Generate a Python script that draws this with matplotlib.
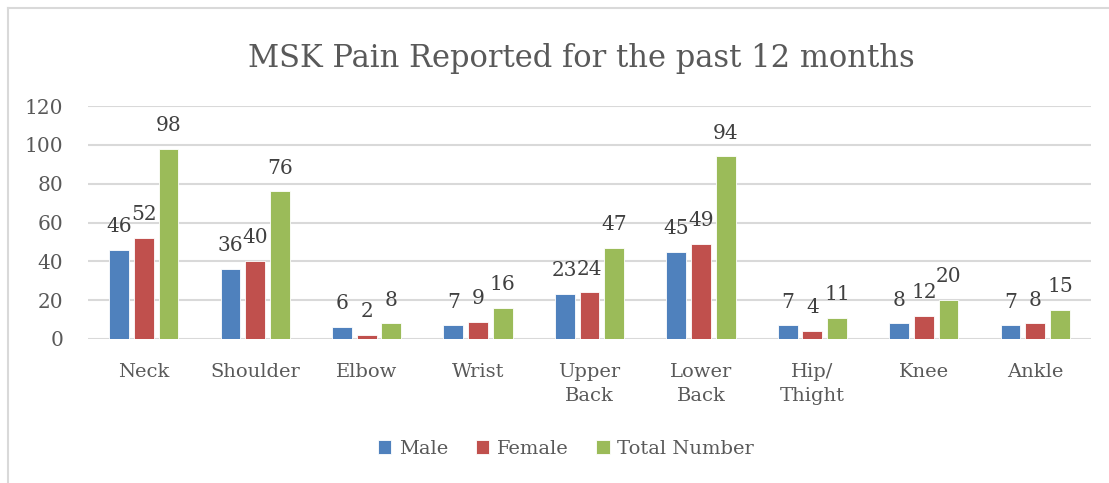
import numpy as np
import matplotlib.pyplot as plt
from matplotlib.lines import Line2D

categories = ["Neck", "Shoulder", "Elbow", "Wrist", "Upper\nBack", "Lower\nBack",
              "Hip/\nThight", "Knee", "Ankle"]
male = [46, 36, 6, 7, 23, 45, 7, 8, 7]
female = [52, 40, 2, 9, 24, 49, 4, 12, 8]
total = [98, 76, 8, 16, 47, 94, 11, 20, 15]

series = [("Male", male, "#4F81BD"),
          ("Female", female, "#C0504D"),
          ("Total Number", total, "#9BBB59")]

plt.rcParams["font.family"] = "DejaVu Serif"
W, H = 1109, 483
fig = plt.figure(figsize=(W / 100, H / 100), dpi=100)

# chart border (only top and left visible in the crop)
fig.add_artist(Line2D([8 / W, 8 / W], [0, 1 - 8 / H], color="#D9D9D9", lw=1.5))
fig.add_artist(Line2D([8 / W, 1], [1 - 8 / H, 1 - 8 / H], color="#D9D9D9", lw=1.5))

ax = fig.add_axes([88 / W, 144 / H, (1091 - 88) / W, (339 - 106) / H])

x = np.arange(len(categories))
step = 0.222
width = 0.178
for i, (name, vals, color) in enumerate(series):
    pos = x + (i - 1) * step
    bars = ax.bar(pos, vals, width, color=color, edgecolor="white", linewidth=0.6, label=name, zorder=3)
    for b, v in zip(bars, vals):
        ax.annotate(str(v), (b.get_x() + b.get_width() / 2, v), xytext=(0, 10),
                    textcoords="offset points", ha="center", va="bottom",
                    fontsize=14.5, color="#404040")

ax.set_xlim(-0.5, len(categories) - 0.5)
ax.set_ylim(0, 120)
ax.set_yticks(range(0, 121, 20))
ax.yaxis.grid(True, color="#D9D9D9", lw=1.5, zorder=0)
ax.set_xticks(x)
ax.set_xticklabels(categories, fontsize=14, color="#595959", linespacing=1.45, va="top")
ax.tick_params(axis="y", labelsize=14.5, labelcolor="#595959", length=0, pad=18)
ax.tick_params(axis="x", length=0, pad=17)
for s in ax.spines.values():
    s.set_visible(False)

fig.text(581 / W, 1 - 58 / H, "MSK Pain Reported for the past 12 months", ha="center", va="center",
         fontsize=22, color="#595959")

fig.legend(loc="center", bbox_to_anchor=(566 / W, 1 - 449 / H), ncol=3, frameon=False,
           fontsize=14, labelcolor="#595959", handlelength=0.7, handleheight=0.7,
           handletextpad=0.4, columnspacing=1.4)

fig.savefig("out.png", dpi=100)
